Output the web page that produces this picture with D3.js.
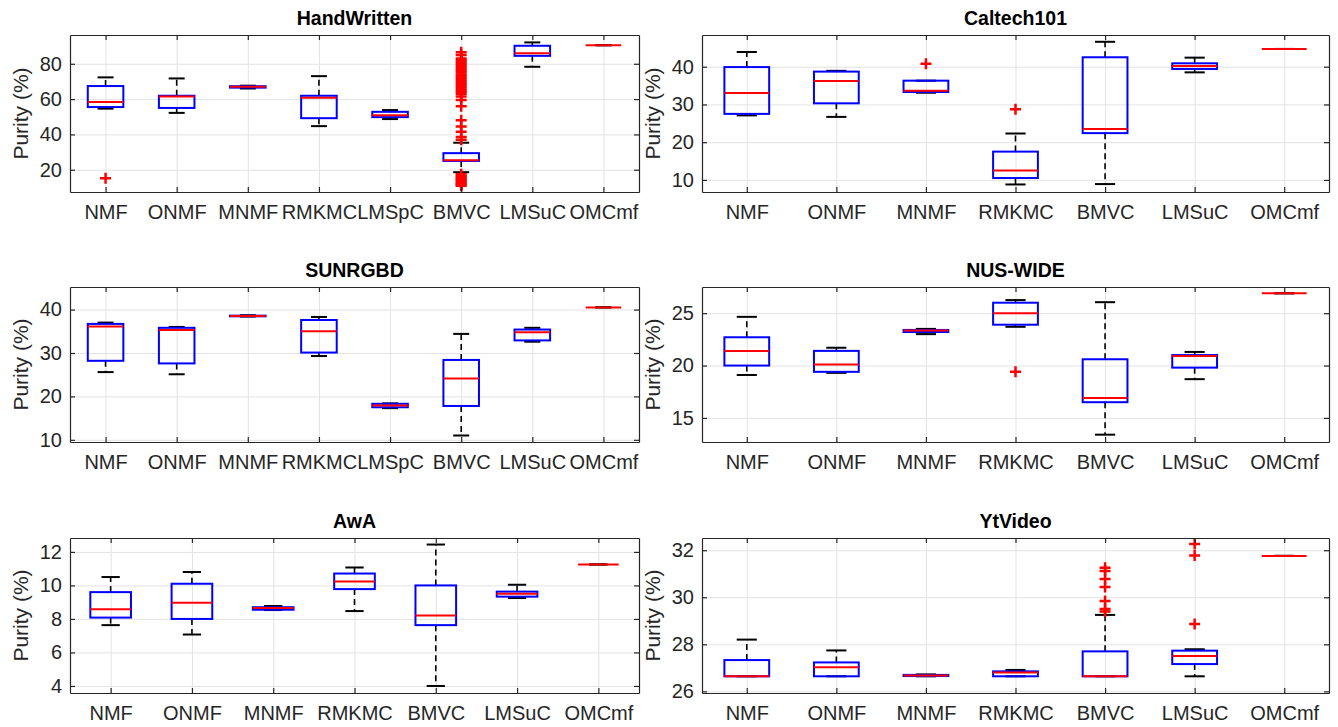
<!DOCTYPE html>
<html>
<head>
<meta charset="utf-8">
<script src="https://cdn.jsdelivr.net/npm/d3@7"></script>
<style>
  body { margin: 0; background: #fff; }
  svg text { font-family: "Liberation Sans", Arial, Helvetica, sans-serif; fill: #262626; }
</style>
</head>
<body>
<svg id="chart" width="1338" height="727"></svg>
<script>
// Methods on the x axis (two panels use the extra LMSpC column)
const methodsFull = ["NMF", "ONMF", "MNMF", "RMKMC", "LMSpC", "BMVC", "LMSuC", "OMCmf"];
const methodsShort = ["NMF", "ONMF", "MNMF", "RMKMC", "BMVC", "LMSuC", "OMCmf"];

// Each row: [lower whisker, q1, median, q3, upper whisker]
const handWrittenStats = [
  [54.6, 55.5, 58.4, 67.4, 72.3],
  [52.2, 55.0, 61.5, 61.9, 71.7],
  [66.0, 66.5, 67.0, 67.3, 67.6],
  [44.7, 49.2, 60.7, 61.9, 73.0],
  [48.7, 49.8, 50.8, 52.8, 53.8],
  [18.6, 25.0, 25.4, 29.4, 35.3],
  [78.3, 84.5, 85.9, 90.2, 92.1],
  [90.5, 90.5, 90.5, 90.5, 90.5]
];
const handWrittenOutliers = [
  [15.2], [], [], [], [],
  [86.5, 85, 83, 82, 81, 80, 79, 78, 77, 76, 75, 74, 73, 72, 71, 70, 69, 68, 67, 66, 65, 64, 63,
   61.5, 59.5, 56, 48, 44.5, 41.5, 38.5, 37,
   17.5, 16.5, 16, 15, 14.5, 14, 13, 12.5, 12, 11.5, 11],
  [], []
];
const handWrittenTicks = [20, 40, 60, 80];

const caltechStats = [
  [27.1, 27.5, 33.0, 39.9, 43.9],
  [26.7, 30.3, 36.2, 38.7, 38.9],
  [33.1, 33.3, 33.6, 36.3, 36.3],
  [8.8, 10.5, 12.5, 17.5, 22.3],
  [8.9, 22.4, 23.5, 42.5, 46.6],
  [38.5, 39.4, 40.2, 40.9, 42.4],
  [44.7, 44.7, 44.7, 44.7, 44.7]
];
const caltechOutliers = [[], [], [40.8], [28.7], [], [], []];
const caltechTicks = [10, 20, 30, 40];

const sunrgbdStats = [
  [25.6, 28.2, 36.1, 36.7, 37.0],
  [25.1, 27.6, 35.3, 35.8, 36.0],
  [38.4, 38.45, 38.5, 38.6, 38.7],
  [29.3, 30.1, 35.0, 37.6, 38.3],
  [17.3, 17.5, 17.9, 18.3, 18.4],
  [11.0, 17.8, 24.1, 28.4, 34.4],
  [32.6, 32.9, 34.8, 35.4, 35.8],
  [40.5, 40.5, 40.5, 40.5, 40.5]
];
const sunrgbdOutliers = [[], [], [], [], [], [], [], []];
const sunrgbdTicks = [10, 20, 30, 40];

const nusWideStats = [
  [19.1, 20.0, 21.4, 22.7, 24.65],
  [19.3, 19.4, 20.1, 21.4, 21.7],
  [23.0, 23.2, 23.35, 23.4, 23.5],
  [23.7, 23.9, 25.0, 26.0, 26.25],
  [13.4, 16.5, 16.9, 20.6, 26.05],
  [18.7, 19.8, 20.9, 21.0, 21.3],
  [26.9, 26.9, 26.9, 26.9, 26.9]
];
const nusWideOutliers = [[], [], [], [19.4], [], [], []];
const nusWideTicks = [15, 20, 25];

const awaStats = [
  [7.63, 8.08, 8.58, 9.6, 10.5],
  [7.07, 8.0, 8.97, 10.1, 10.8],
  [8.53, 8.55, 8.65, 8.7, 8.77],
  [8.47, 9.78, 10.24, 10.71, 11.07],
  [4.0, 7.63, 8.2, 10.0, 12.44],
  [9.25, 9.33, 9.51, 9.63, 10.04],
  [11.25, 11.25, 11.25, 11.25, 11.25]
];
const awaOutliers = [[], [], [], [], [], [], []];
const awaTicks = [4, 6, 8, 10, 12];

const ytVideoStats = [
  [26.64, 26.64, 26.64, 27.33, 28.2],
  [26.64, 26.64, 27.02, 27.23, 27.74],
  [26.64, 26.65, 26.67, 26.7, 26.72],
  [26.64, 26.64, 26.8, 26.85, 26.91],
  [26.64, 26.64, 26.64, 27.7, 29.25],
  [26.64, 27.16, 27.5, 27.73, 27.79],
  [31.76, 31.76, 31.76, 31.76, 31.76]
];
const ytVideoOutliers = [
  [], [], [], [],
  [31.26, 31.12, 30.78, 30.44, 29.84, 29.5, 29.4],
  [28.86, 31.78, 32.26],
  []
];
const ytVideoTicks = [26, 28, 30, 32];

// Panel layout (2 columns x 3 rows)
const colX = [70, 702];
const colW = [569, 627];
const rowY = [35, 287, 538];
const rowH = [157, 155, 155];

const panels = [
  { title: "HandWritten", cats: methodsFull, stats: handWrittenStats, outliers: handWrittenOutliers, domain: [7.4, 96.3], ticks: handWrittenTicks, col: 0, row: 0 },
  { title: "Caltech101", cats: methodsShort, stats: caltechStats, outliers: caltechOutliers, domain: [6.8, 48.4], ticks: caltechTicks, col: 1, row: 0 },
  { title: "SUNRGBD", cats: methodsFull, stats: sunrgbdStats, outliers: sunrgbdOutliers, domain: [9.5, 45.2], ticks: sunrgbdTicks, col: 0, row: 1 },
  { title: "NUS-WIDE", cats: methodsShort, stats: nusWideStats, outliers: nusWideOutliers, domain: [12.7, 27.5], ticks: nusWideTicks, col: 1, row: 1 },
  { title: "AwA", cats: methodsShort, stats: awaStats, outliers: awaOutliers, domain: [3.58, 12.83], ticks: awaTicks, col: 0, row: 2 },
  { title: "YtVideo", cats: methodsShort, stats: ytVideoStats, outliers: ytVideoOutliers, domain: [25.93, 32.52], ticks: ytVideoTicks, col: 1, row: 2 }
];

const svg = d3.select("#chart");
const axisColor = "#262626";
const gridColor = "#e3e3e3";

panels.forEach(p => drawPanel(p));

function drawPanel(p) {
  const w = colW[p.col];
  const h = rowH[p.row];
  const g = svg.append("g").attr("transform", `translate(${colX[p.col]},${rowY[p.row]})`);

  const x = d3.scalePoint().domain(p.cats).range([0, w]).padding(0.5);
  const y = d3.scaleLinear().domain(p.domain).range([h, 0]);
  const step = x.step();
  const boxW = step * 0.5;
  const capW = boxW * 0.45;

  // grid lines
  g.append("g")
    .call(d3.axisLeft(y).tickValues(p.ticks).tickSize(-w).tickFormat(""))
    .call(a => a.select(".domain").remove())
    .selectAll("line").attr("stroke", gridColor).attr("stroke-width", 1);
  g.append("g")
    .attr("transform", `translate(0,${h})`)
    .call(d3.axisBottom(x).tickSize(-h).tickFormat(""))
    .call(a => a.select(".domain").remove())
    .selectAll("line").attr("stroke", gridColor).attr("stroke-width", 1);

  // boxes
  const boxes = g.selectAll(".box")
    .data(p.stats.map((s, i) => ({ cat: p.cats[i], s: s, out: p.outliers[i] })))
    .enter().append("g")
    .attr("class", "box")
    .attr("transform", d => `translate(${x(d.cat)},0)`);

  // dashed whiskers
  boxes.append("line")
    .attr("y1", d => y(d.s[3])).attr("y2", d => y(d.s[4]))
    .attr("stroke", "#000").attr("stroke-width", 1.6).attr("stroke-dasharray", "6,4");
  boxes.append("line")
    .attr("y1", d => y(d.s[1])).attr("y2", d => y(d.s[0]))
    .attr("stroke", "#000").attr("stroke-width", 1.6).attr("stroke-dasharray", "6,4");

  // whisker caps
  [0, 4].forEach(k => {
    boxes.append("line")
      .attr("x1", -capW / 2).attr("x2", capW / 2)
      .attr("y1", d => y(d.s[k])).attr("y2", d => y(d.s[k]))
      .attr("stroke", "#000").attr("stroke-width", 2);
  });

  // box body
  boxes.append("rect")
    .attr("x", -boxW / 2)
    .attr("width", boxW)
    .attr("y", d => y(d.s[3]))
    .attr("height", d => Math.max(0, y(d.s[1]) - y(d.s[3])))
    .attr("fill", "none")
    .attr("stroke", "#0000ff")
    .attr("stroke-width", 2);

  // median
  boxes.append("line")
    .attr("x1", -boxW / 2).attr("x2", boxW / 2)
    .attr("y1", d => y(d.s[2])).attr("y2", d => y(d.s[2]))
    .attr("stroke", "#ff0000").attr("stroke-width", 2);

  // outliers
  boxes.selectAll(".outlier")
    .data(d => d.out)
    .enter().append("path")
    .attr("class", "outlier")
    .attr("d", "M-5.5,0H5.5M0,-5.5V5.5")
    .attr("transform", v => `translate(0,${y(v)})`)
    .attr("stroke", "#ff0000")
    .attr("stroke-width", 2.5)
    .attr("fill", "none");

  // axes (box on, ticks pointing inward)
  const left = g.append("g")
    .call(d3.axisLeft(y).tickValues(p.ticks).tickSize(-5).tickSizeOuter(0).tickPadding(8).tickFormat(d => d));
  const right = g.append("g").attr("transform", `translate(${w},0)`)
    .call(d3.axisRight(y).tickValues(p.ticks).tickSize(-5).tickSizeOuter(0).tickFormat(""));
  const bottom = g.append("g").attr("transform", `translate(0,${h})`)
    .call(d3.axisBottom(x).tickSize(-5).tickSizeOuter(0).tickPadding(13));
  const top = g.append("g")
    .call(d3.axisTop(x).tickSize(-5).tickSizeOuter(0).tickFormat(""));

  [left, right, bottom, top].forEach(a => {
    a.select(".domain").attr("stroke", axisColor).attr("stroke-width", 1.2);
    a.selectAll("line").attr("stroke", axisColor).attr("stroke-width", 1.2);
    a.selectAll("text").attr("fill", axisColor).style("font-size", "20px")
      .style("font-family", "'Liberation Sans', Arial, sans-serif");
  });

  // title
  g.append("text")
    .attr("x", w / 2)
    .attr("y", -10)
    .attr("text-anchor", "middle")
    .style("font-size", "19.5px")
    .style("font-weight", "bold")
    .style("fill", "#000")
    .text(p.title);

  // y label
  g.append("text")
    .attr("transform", `translate(-42,${h / 2}) rotate(-90)`)
    .attr("text-anchor", "middle")
    .style("font-size", "21px")
    .text("Purity (%)");
}
</script>
</body>
</html>
